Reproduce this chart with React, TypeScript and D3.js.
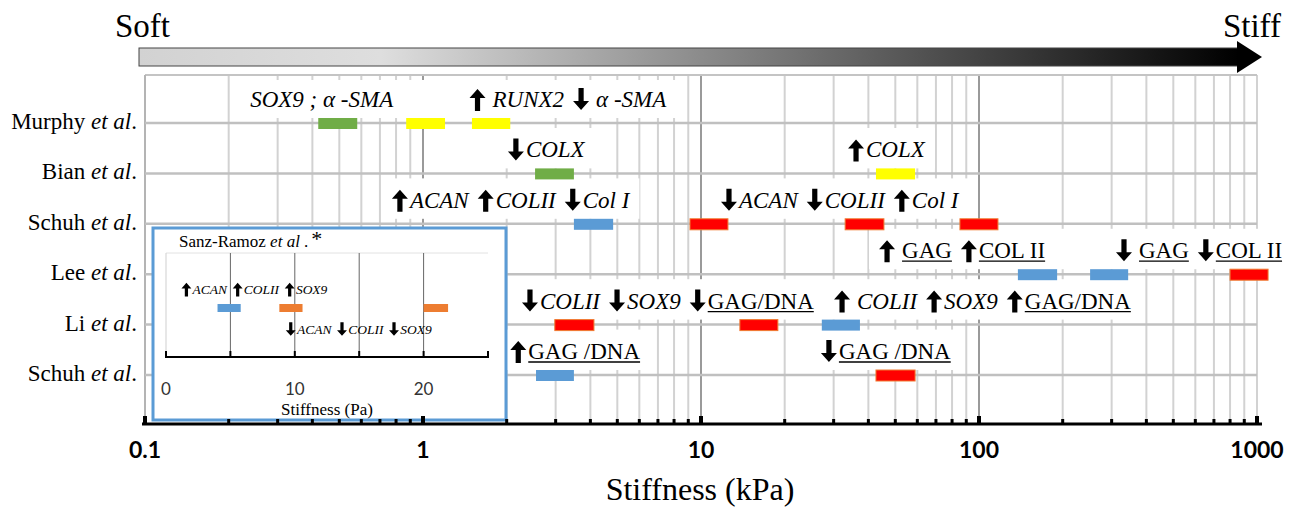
import React, { useEffect, useRef } from "react";
import * as d3 from "d3";

// studies, one row each (top to bottom)
const studies = ["Murphy", "Bian", "Schuh", "Lee", "Li", "Schuh"];

// stiffness ranges (kPa) tested in each study
const barStudy = [0, 0, 0, 1, 1, 2, 2, 2, 2, 3, 3, 3, 4, 4, 4, 5, 5];
const barLow = [0.42, 0.87, 1.5, 2.53, 42.6, 3.49, 9.13, 33, 85.4, 138, 251, 800, 2.98, 13.8, 27.2, 2.55, 42.6];
const barHigh = [0.58, 1.2, 2.06, 3.49, 58.9, 4.83, 12.5, 45.5, 117, 191, 344, 1096, 4.12, 18.9, 37.3, 3.49, 58.9];
const barKind = ["green", "yellow", "yellow", "green", "yellow", "blue", "red", "red", "red", "blue", "blue", "red", "red", "red", "blue", "blue", "red"];

// annotations: row, anchor stiffness (kPa), text (↑/↓ arrows, _x_ = underlined upright)
const noteStudy = [0, 0, 1, 1, 2, 2, 3, 3, 4, 4, 5, 5];
const noteAt = [0.239, 1.47, 2.02, 33.8, 0.773, 11.8, 43.7, 311, 2.27, 30.1, 2.06, 27.0];
const noteText = [
  "SOX9 ; α -SMA",
  "↑ RUNX2 ↓ α -SMA",
  "↓COLX",
  "↑COLX",
  "↑ACAN ↑COLII ↓Col I",
  "↓ACAN ↓COLII ↑Col I",
  "↑ _GAG_ ↑_COL II_",
  "↓ _GAG_ ↓_COL II_",
  "↓COLII ↓SOX9 ↓_GAG/DNA_",
  "↑ COLII ↑SOX9 ↑_GAG/DNA_",
  "↑_GAG /DNA_",
  "↓_GAG /DNA_",
];

const tickValues = [0.1, 1, 10, 100, 1000];
const tickLabels = ["0.1", "1", "10", "100", "1000"];

// inset (Sanz-Ramoz et al., Pa)
const insetLow = [4, 8.8, 20];
const insetHigh = [5.8, 10.6, 21.9];
const insetKind = ["blue", "orange", "orange"];
const insetNoteAt = [1.2, 9.3];
const insetNoteText = ["↑ACAN ↑COLII ↑SOX9", "↓ACAN ↓COLII ↓SOX9"];
const insetTicks = [0, 10, 20];

const colors: Record<string, string> = {
  green: "#70ad47",
  yellow: "#ffff00",
  blue: "#5b9bd5",
  red: "#ff0000",
  orange: "#ed7d31",
};

const serif = "'Liberation Serif', 'Times New Roman', serif";

const App = () => {
  const svgRef = useRef<SVGSVGElement>(null);

  useEffect(() => {
    document.body.style.margin = "0";
    const svg = d3.select(svgRef.current);
    svg.selectAll("*").remove();

    const x = d3.scaleLog().domain([0.1, 1000]).range([145, 1257]);
    const y = d3.scalePoint<number>().domain(d3.range(studies.length)).range([123, 375]);
    const top = 75;
    const bottom = 424;

    // gradient arrow
    const defs = svg.append("defs");
    const grad = defs.append("linearGradient").attr("id", "soft").attr("x1", "0%").attr("x2", "100%");
    grad.append("stop").attr("offset", "0%").attr("stop-color", "#d2d2d2");
    grad.append("stop").attr("offset", "22%").attr("stop-color", "#dedede");
    grad.append("stop").attr("offset", "100%").attr("stop-color", "#000");
    svg.append("rect").attr("x", 139).attr("y", 48).attr("width", 1100).attr("height", 18)
      .attr("fill", "url(#soft)").attr("stroke", "#444").attr("stroke-width", 1);
    svg.append("path").attr("d", "M1237,41 L1262,57 L1237,73 Z").attr("fill", "#000");
    svg.append("text").attr("x", 115).attr("y", 37).attr("font-family", serif).attr("font-size", 33).text("Soft");
    svg.append("text").attr("x", 1281).attr("y", 37).attr("text-anchor", "end")
      .attr("font-family", serif).attr("font-size", 33).text("Stiff");

    // vertical grid
    const ticks = x.ticks();
    const isMajor = (v: number) => Math.abs(Math.log10(v) - Math.round(Math.log10(v))) < 1e-6;
    svg.append("g").selectAll("line").data(ticks).join("line")
      .attr("x1", (d) => x(d)).attr("x2", (d) => x(d))
      .attr("y1", top).attr("y2", bottom)
      .attr("stroke", (d) => (isMajor(d) && d > 0.1 && d < 1000 ? "#9a9a9a" : "#d2d2d2"))
      .attr("stroke-width", 2);
    svg.append("line").attr("x1", 145).attr("x2", 1257).attr("y1", top).attr("y2", top)
      .attr("stroke", "#c4c4c4").attr("stroke-width", 2);
    svg.append("line").attr("x1", 145).attr("x2", 145).attr("y1", top).attr("y2", bottom)
      .attr("stroke", "#b4b4b4").attr("stroke-width", 2);

    // row lines
    svg.append("g").selectAll("line").data(studies).join("line")
      .attr("x1", 145).attr("x2", 1257)
      .attr("y1", (_, i) => y(i)!).attr("y2", (_, i) => y(i)!)
      .attr("stroke", "#c0c0c0").attr("stroke-width", 2.5);

    const arrow = (g: any, cx: number, b: number, up: boolean, s: number) => {
      const hw = 8 * s, sw = 2.6 * s;
      const pts = up
        ? [[cx, b - 18 * s], [cx + hw, b - 9 * s], [cx + sw, b - 9 * s], [cx + sw, b + 4 * s], [cx - sw, b + 4 * s], [cx - sw, b - 9 * s], [cx - hw, b - 9 * s]]
        : [[cx, b + 3 * s], [cx + hw, b - 6 * s], [cx + sw, b - 6 * s], [cx + sw, b - 19 * s], [cx - sw, b - 19 * s], [cx - sw, b - 6 * s], [cx - hw, b - 6 * s]];
      g.append("path").attr("d", "M" + pts.map((p) => p.join(",")).join("L") + "Z").attr("fill", "#000");
    };

    const note = (g: any, str: string, x0: number, base: number, size: number, s: number) => {
      let cx = x0;
      let prevArrow = false;
      str.split(/([↑↓])/).forEach((p) => {
        if (p === "↑" || p === "↓") {
          arrow(g, cx + 8 * s, base, p === "↑", s);
          cx += 16 * s;
          prevArrow = true;
          return;
        }
        if (!p) return;
        let t = p;
        if (t.startsWith(" ")) {
          cx += 7 * s;
          t = t.trimStart();
        } else if (prevArrow) cx += 2 * s;
        const trailing = t.endsWith(" ");
        t = t.trimEnd();
        const ul = t.startsWith("_");
        t = t.replace(/_/g, "");
        const el = g.append("text").attr("x", cx).attr("y", base)
          .attr("font-family", serif).attr("font-size", size)
          .attr("font-style", ul ? "normal" : "italic").text(t);
        const w = (el.node() as SVGTextElement).getComputedTextLength();
        if (ul) {
          g.append("line").attr("x1", cx).attr("x2", cx + w).attr("y1", base + 3).attr("y2", base + 3)
            .attr("stroke", "#000").attr("stroke-width", 1.3);
        }
        cx += w;
        if (trailing) cx += 9 * s;
        prevArrow = false;
      });
      return cx;
    };

    // annotations with white boxes behind them (close boxes in a row are merged)
    const boxLayer = svg.append("g");
    const noteLayer = svg.append("g");
    const spans: { row: number; x0: number; x1: number }[] = [];
    noteText.forEach((str, i) => {
      const row = noteStudy[i];
      const x0 = x(noteAt[i]);
      const x1 = note(noteLayer, str, x0, y(row)! - 16, 23, 1);
      const last = spans[spans.length - 1];
      if (last && last.row === row && x0 - last.x1 < 85) last.x1 = x1;
      else spans.push({ row, x0, x1 });
    });
    spans.forEach((sp) => {
      const ry = y(sp.row)!;
      const prev = sp.row === 0 ? top : y(sp.row - 1)!;
      boxLayer.append("rect").attr("fill", "#fff")
        .attr("x", sp.x0 - 10).attr("width", sp.x1 - sp.x0 + 20)
        .attr("y", prev + 5).attr("height", ry - prev - 10);
    });

    // bars
    svg.append("g").selectAll("rect").data(barLow).join("rect")
      .attr("x", (d) => x(d))
      .attr("width", (d, i) => x(barHigh[i]) - x(d))
      .attr("y", (_, i) => y(barStudy[i])! - 5)
      .attr("height", 11)
      .attr("fill", (_, i) => colors[barKind[i]])
      .attr("stroke", (_, i) => (barKind[i] === "red" ? "#f07a30" : "none"))
      .attr("stroke-width", 1);

    // inset
    const ix = d3.scaleLinear().domain([0, 25]).range([166, 488]);
    const inset = svg.append("g");
    inset.append("rect").attr("x", 153).attr("y", 228).attr("width", 353).attr("height", 192)
      .attr("fill", "#fff").attr("stroke", "#5b9bd5").attr("stroke-width", 3);
    const iTop = 253, iBot = 357;
    inset.append("line").attr("x1", 166).attr("x2", 488).attr("y1", iTop).attr("y2", iTop)
      .attr("stroke", "#e2e2e2").attr("stroke-width", 1);
    inset.append("line").attr("x1", 166).attr("x2", 166).attr("y1", iTop).attr("y2", iBot)
      .attr("stroke", "#cfcfcf").attr("stroke-width", 1);
    inset.append("g").selectAll("line").data([5, 10, 15, 20]).join("line")
      .attr("x1", (d) => ix(d)).attr("x2", (d) => ix(d)).attr("y1", iTop).attr("y2", iBot)
      .attr("stroke", "#666").attr("stroke-width", 1);
    insetNoteText.forEach((str, i) => {
      note(inset, str, ix(insetNoteAt[i]), i === 0 ? 294 : 334, 13.5, 0.62);
    });
    inset.append("g").selectAll("rect").data(insetLow).join("rect")
      .attr("x", (d) => ix(d)).attr("width", (d, i) => ix(insetHigh[i]) - ix(d))
      .attr("y", 304).attr("height", 8)
      .attr("fill", (_, i) => colors[insetKind[i]]);
    inset.append("line").attr("x1", 165).attr("x2", 489).attr("y1", iBot).attr("y2", iBot)
      .attr("stroke", "#000").attr("stroke-width", 2);
    inset.append("g").selectAll("line").data(d3.range(0, 26, 5)).join("line")
      .attr("x1", (d) => ix(d)).attr("x2", (d) => ix(d)).attr("y1", iBot - 6).attr("y2", iBot)
      .attr("stroke", "#000").attr("stroke-width", 2);
    inset.append("g").selectAll("text").data(insetTicks).join("text")
      .attr("x", (d) => ix(d)).attr("y", 395).attr("text-anchor", "middle")
      .attr("font-family", "Lato, sans-serif").attr("font-size", 17).attr("fill", "#333")
      .text((d) => String(d));
    inset.append("text").attr("x", 327).attr("y", 415).attr("text-anchor", "middle")
      .attr("font-family", serif).attr("font-size", 17).text("Stiffness (Pa)");
    const title = inset.append("text").attr("x", 179).attr("y", 247)
      .attr("font-family", serif).attr("font-size", 17);
    title.append("tspan").text("Sanz-Ramoz ");
    title.append("tspan").attr("font-style", "italic").text("et al");
    title.append("tspan").text(" .");
    title.append("tspan").attr("font-size", 22).attr("dx", 3).attr("dy", -1).text("*");

    // bottom axis
    svg.append("line").attr("x1", 142).attr("x2", 1262).attr("y1", bottom).attr("y2", bottom)
      .attr("stroke", "#000").attr("stroke-width", 3);
    svg.append("g").selectAll("rect").data(ticks).join("rect")
      .attr("x", (d) => x(d) - (isMajor(d) ? 2 : 1.5))
      .attr("width", (d) => (isMajor(d) ? 4 : 3))
      .attr("y", (d) => bottom - (isMajor(d) ? 8 : 5))
      .attr("height", (d) => (isMajor(d) ? 8 : 5))
      .attr("fill", "#000");
    svg.append("g").selectAll("text").data(tickValues).join("text")
      .attr("x", (d) => x(d)).attr("y", 458).attr("text-anchor", "middle")
      .attr("font-family", "Lato, sans-serif").attr("font-weight", 700).attr("font-size", 23)
      .text((_, i) => tickLabels[i]);
    svg.append("text").attr("x", 700).attr("y", 500).attr("text-anchor", "middle")
      .attr("font-family", serif).attr("font-size", 32).text("Stiffness (kPa)");

    // row labels
    const labels = svg.append("g").selectAll("text").data(studies).join("text")
      .attr("x", 137).attr("y", (_, i) => y(i)! + 6).attr("text-anchor", "end")
      .attr("font-family", serif).attr("font-size", 23);
    labels.append("tspan").text((d) => d + " ");
    labels.append("tspan").attr("font-style", "italic").text("et al");
    labels.append("tspan").text(".");
  }, []);

  return <svg ref={svgRef} width={1298} height={511} style={{ display: "block", background: "#fff" }} />;
};

export default App;
